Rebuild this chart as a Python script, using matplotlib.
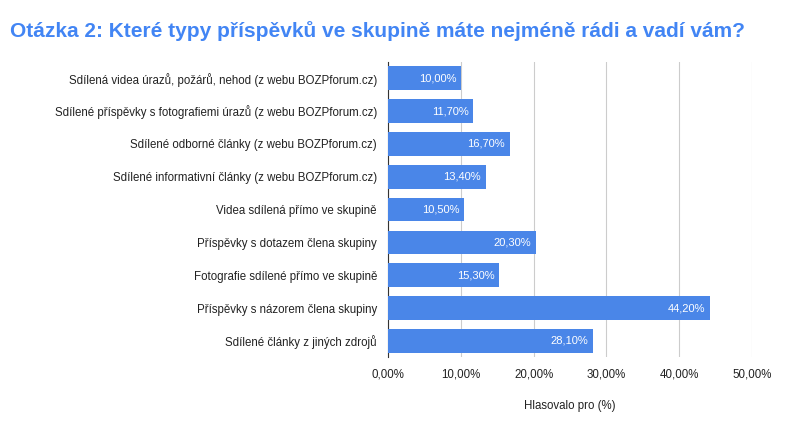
import matplotlib.pyplot as plt

plt.rcParams["font.family"] = ["Liberation Sans", "DejaVu Sans"]

categories = [
    "Sdílená videa úrazů, požárů, nehod (z webu BOZPforum.cz)",
    "Sdílené příspěvky s fotografiemi úrazů (z webu BOZPforum.cz)",
    "Sdílené odborné články (z webu BOZPforum.cz)",
    "Sdílené informativní články (z webu BOZPforum.cz)",
    "Videa sdílená přímo ve skupině",
    "Příspěvky s dotazem člena skupiny",
    "Fotografie sdílené přímo ve skupině",
    "Příspěvky s názorem člena skupiny",
    "Sdílené články z jiných zdrojů",
]
values = [10.0, 11.7, 16.7, 13.4, 10.5, 20.3, 15.3, 44.2, 28.1]
xticks = [0, 10, 20, 30, 40, 50]

fig = plt.figure(figsize=(8.09, 4.32), dpi=100)
ax = fig.add_axes([0.4796, 0.173, 0.4499, 0.684])

ypos = list(range(len(categories)))
ax.barh(ypos, values, height=0.72, color="#4a86e8", zorder=3)
for y, v in zip(ypos, values):
    ax.text(v - 0.6, y, f"{v:.2f}%".replace(".", ","), color="white",
            ha="right", va="center", fontsize=8, zorder=4)

ax.set_ylim(len(categories) - 0.5, -0.5)
ax.set_xlim(0, 50)
ax.set_yticks(ypos)
ax.set_yticklabels(categories, fontsize=8.3, color="#222222")
ax.set_xticks(xticks)
ax.set_xticklabels([f"{t:.2f}%".replace(".", ",") for t in xticks], fontsize=8.3, color="#222222")
ax.tick_params(length=0, pad=8)
ax.grid(axis="x", color="#cccccc", linewidth=0.8, zorder=0)
for s in ["top", "right", "bottom"]:
    ax.spines[s].set_visible(False)
ax.spines["left"].set_color("#333333")
ax.set_xlabel("Hlasovalo pro (%)", fontsize=8.3, color="#222222", labelpad=14)

fig.text(0.012, 0.915, "Otázka 2: Které typy příspěvků ve skupině máte nejméně rádi a vadí vám?",
         fontsize=15, fontweight="bold", color="#4285f4")

fig.savefig("out.png", dpi=100)
